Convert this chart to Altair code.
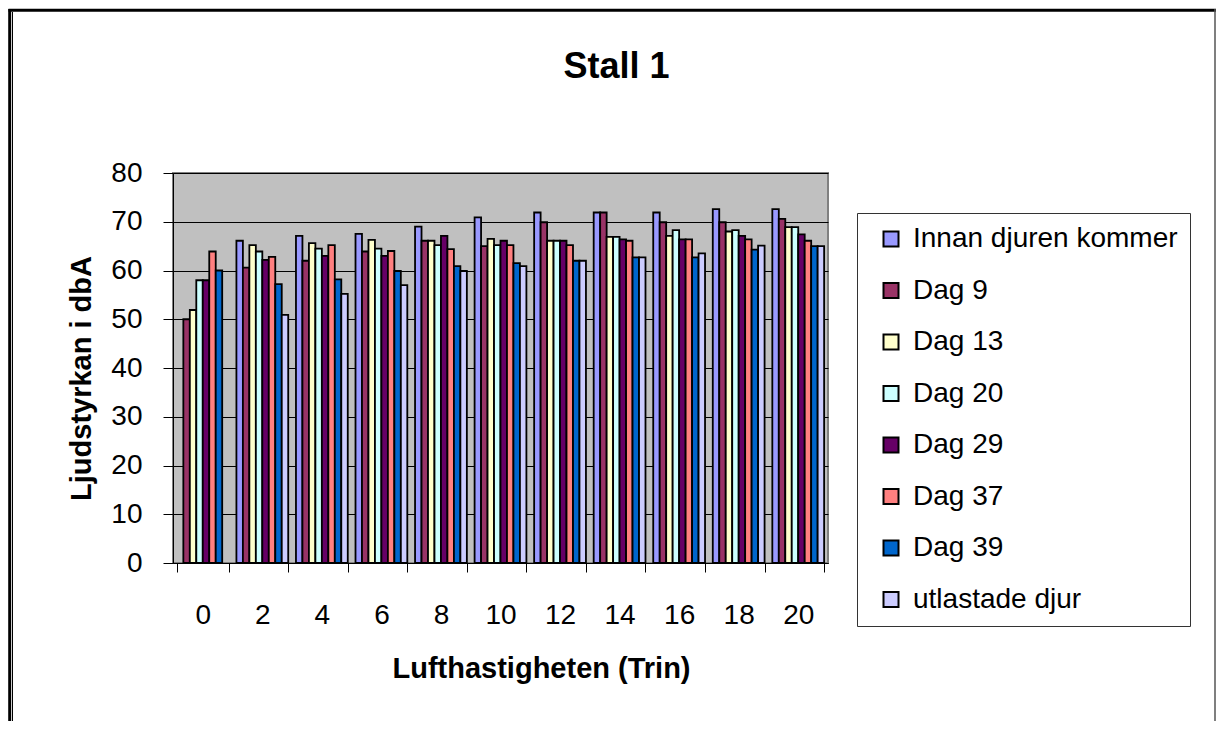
import altair as alt
import pandas as pd

# ---- data ----
trin = ["0", "2", "4", "6", "8", "10", "12", "14", "16", "18", "20"]
series = ["Innan djuren kommer", "Dag 9", "Dag 13", "Dag 20", "Dag 29",
          "Dag 37", "Dag 39", "utlastade djur"]
innan = [None, 66.1, 67.1, 67.5, 69.0, 70.9, 71.9, 71.9, 71.9, 72.6, 72.6]
dag9 = [50.0, 60.6, 62.0, 63.9, 66.1, 65.0, 69.9, 71.9, 69.9, 69.9, 70.6]
dag13 = [51.9, 65.2, 65.6, 66.3, 66.1, 66.5, 66.1, 66.9, 67.1, 68.0, 68.9]
dag20 = [58.0, 63.9, 64.5, 64.5, 65.2, 65.2, 66.1, 66.9, 68.3, 68.3, 68.9]
dag29 = [58.0, 62.2, 63.0, 63.0, 67.1, 66.1, 66.1, 66.4, 66.4, 67.1, 67.4]
dag37 = [63.9, 62.8, 65.2, 64.0, 64.4, 65.2, 65.2, 66.1, 66.4, 66.4, 66.1]
dag39 = [60.0, 57.2, 58.2, 59.9, 60.9, 61.5, 62.0, 62.7, 62.7, 64.3, 65.0]
utl = [None, 50.9, 55.2, 57.0, 59.9, 60.9, 62.0, 62.7, 63.5, 65.1, 65.0]
colors = ["#9999FF", "#993366", "#FFFFCC", "#CCFFFF", "#660066",
          "#FF8080", "#0066CC", "#CCCCFF"]
y_ticks = [0, 10, 20, 30, 40, 50, 60, 70, 80]

values = [innan, dag9, dag13, dag20, dag29, dag37, dag39, utl]
rows = []
for s, vals in zip(series, values):
    for t, v in zip(trin, vals):
        rows.append({"Trin": t, "Serie": s, "Varde": v})
df = pd.DataFrame(rows)

FONT = "Liberation Sans"

bars = alt.Chart(df).mark_bar(stroke="black", strokeWidth=1.8).encode(
    x=alt.X("Trin:N", sort=trin,
            scale=alt.Scale(paddingInner=0.13, paddingOuter=0.065),
            axis=alt.Axis(title="Lufthastigheten (Trin)", labelAngle=0,
                          tickBand="extent", tickSize=9, tickColor="black",
                          domainColor="black", labelPadding=29,
                          labelFontSize=28, labelFont=FONT, labelColor="black",
                          titleFontSize=29, titleFont=FONT, titleFontWeight="bold",
                          titleColor="black", titleX=368, titleY=114,
                          titleBaseline="alphabetic")),
    xOffset=alt.XOffset("Serie:N", sort=series,
                        scale=alt.Scale(domain=series, paddingInner=0, paddingOuter=0)),
    y=alt.Y("Varde:Q", scale=alt.Scale(domain=[0, 80], nice=False),
            axis=alt.Axis(title="Ljudstyrkan i dbA", values=y_ticks, grid=True,
                          gridColor="black", gridWidth=1, tickSize=10,
                          tickColor="black", domainColor="black", labelPadding=21,
                          labelFontSize=28, labelFont=FONT, labelColor="black",
                          titleFontSize=29, titleFont=FONT, titleFontWeight="bold",
                          titleColor="black", titlePadding=14, titleY=205)),
    color=alt.Color("Serie:N", sort=series,
                    scale=alt.Scale(domain=series, range=colors),
                    legend=alt.Legend(title=None, orient="none", legendX=684,
                                      legendY=40, symbolType="square",
                                      symbolSize=225, symbolStrokeColor="black",
                                      symbolStrokeWidth=2, symbolOpacity=1,
                                      labelFontSize=28, labelFont=FONT,
                                      labelColor="black", rowPadding=23.5,
                                      padding=12, symbolOffset=8, labelOffset=8,
                                      strokeColor="#333333", fillColor="white",
                                      labelLimit=400)),
)

one = pd.DataFrame({"k": [0]})
frame_top = alt.Chart(one).mark_rule(color="black", strokeWidth=3).encode(
    x=alt.value(-164.5), x2=alt.value(1043), y=alt.value(-162.7))
frame_left = alt.Chart(one).mark_rule(color="black", strokeWidth=3).encode(
    x=alt.value(-163.3), y=alt.value(-164), y2=alt.value(600))
frame_left_inner = alt.Chart(one).mark_rule(color="black", strokeWidth=1).encode(
    x=alt.value(-160.5), y=alt.value(-161), y2=alt.value(600))
frame_right = alt.Chart(one).mark_rule(color="#555555", strokeWidth=1.5).encode(
    x=alt.value(1042), y=alt.value(-164), y2=alt.value(600))

chart = alt.layer(bars, frame_top, frame_left, frame_left_inner, frame_right).properties(
    width=655, height=390,
    padding={"left": 165, "top": 165, "right": 388, "bottom": 158},
    autosize=alt.AutoSizeParams(type="none"),
    title=alt.TitleParams("Stall 1", fontSize=36, font=FONT, fontWeight="bold",
                          anchor="middle", dx=116, offset=-106,
                          baseline="alphabetic", color="black"),
    background="white",
).configure_view(fill="#C0C0C0", stroke="#808080", strokeWidth=2)

chart.save("out.html", embed_options={"renderer": "svg", "actions": False})
